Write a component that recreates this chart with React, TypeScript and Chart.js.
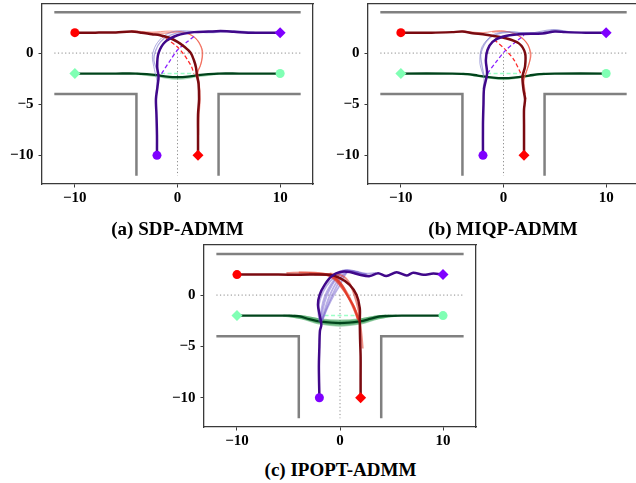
import React, { useEffect, useRef } from "react";
import { Chart, registerables } from "chart.js";
Chart.register(...registerables);

type P = [number, number];

// ---------- shared data ----------
const xTicks = [-10, 0, 10];
const yTicks = [-10, -5, 0];
const wallTop: P[] = [[-12, 4], [12, 4]];
const wallLeft: P[] = [[-12, -4], [-4, -4], [-4, -12]];
const wallRight: P[] = [[12, -4], [4, -4], [4, -12]];
const dotH: P[] = [[-12, 0], [12, 0]];
const dotV: P[] = [[0, 0], [0, -12]];
const redStart: P = [-10, 2];
const redEnd: P = [2, -10];
const purpleStart: P = [-2, -10];
const purpleEnd: P = [10, 2];
const greenStart: P = [10, -2];
const greenEnd: P = [-10, -2];

// ---------- (a) SDP-ADMM ----------
const aRed: P[] = [[-10, 2], [-8, 2], [-6, 2.02], [-4.5, 2.1], [-3.5, 2.0], [-2.5, 1.85], [-1.7, 1.75], [-0.8, 1.5], [0, 1.1], [0.7, 0.6], [1.3, 0], [1.6, -0.7], [1.8, -1.4], [1.9, -2.2], [2.05, -3], [2.1, -4.5], [2.0, -6], [2.0, -8], [2, -10]];
const aRedLight: P[] = [[-5, 2.1], [-3, 2.0], [-1.3, 1.95], [0.3, 2.07], [1.6, 1.6], [2.3, 0.6], [2.4, -0.4], [2.2, -1.3], [1.8, -2.1], [2.1, -3], [2.2, -4.5], [2.1, -6], [2.05, -8]];
const aRedLight2: P[] = [[-4.5, 2.2], [-2.5, 2.05], [-0.8, 2.15], [0.8, 2.0], [1.9, 1.3], [2.45, 0.2], [2.3, -1.0], [2.0, -1.9], [2.15, -3.2], [2.1, -5]];
const aPurple: P[] = [[-2, -10], [-2, -8], [-2.05, -6], [-2.1, -4.5], [-1.95, -3.3], [-1.85, -2.3], [-1.98, -1.3], [-1.85, 0], [-1.2, 1.1], [0, 1.75], [1.6, 2.05], [3, 2.1], [4.2, 2.15], [5.5, 2.08], [7.4, 1.98], [10, 2]];
const aPurpleLight: P[] = [[-1.8, -2.6], [-2.0, -1.7], [-2.3, -0.7], [-2.15, 0.2], [-1.66, 1.1], [-0.7, 1.75], [0.6, 2.07], [1.8, 2.05], [3.5, 2.0], [5, 2.1], [7, 2.0], [9, 2.0]];
const aPurpleLight2: P[] = [[-2.1, -4], [-2.0, -2.8], [-2.25, -1.6], [-2.45, -0.3], [-2.1, 0.8], [-1.3, 1.7], [-0.2, 2.15], [1.2, 2.15], [2.8, 2.0], [5, 2.2], [7.5, 2.05]];
const aRedRef: P[] = [[-1.7, 1.75], [-0.8, 1.2], [0, 0.6], [0.6, -0.1], [1.0, -0.7], [1.35, -1.3], [1.6, -2.0]];
const aPurpleRef: P[] = [[-1.55, -2.0], [-0.7, -0.7], [0, 0.3], [0.95, 1.1], [1.75, 1.75]];
const aGreen: P[] = [[10, -2], [6, -2], [4, -2.0], [3, -2.05], [2, -2.15], [1, -2.3], [0, -2.35], [-1, -2.3], [-2, -2.15], [-3, -2.05], [-4, -2], [-6, -2], [-10, -2]];
const aGreenLight: P[] = [[4, -2], [2, -2.25], [0, -2.5], [-2, -2.25], [-4, -2]];
const aGreenRef: P[] = [[-1.6, -2], [1.6, -2]];

// ---------- (b) MIQP-ADMM ----------
const bRed: P[] = [[-10, 2], [-7, 2.0], [-5, 2.05], [-4, 2.1], [-3, 1.95], [-1.7, 1.8], [0.2, 1.45], [1.5, 0.95], [2.1, 0], [2.1, -1.3], [1.85, -2.3], [1.95, -3.6], [2.1, -4.5], [2.0, -5.5], [2.0, -7], [2, -10]];
const bRedLight: P[] = [[-1.1, 2.07], [0.55, 2.07], [2.0, 1.3], [2.66, 0], [2.5, -1.0], [2.17, -2.0], [1.9, -3], [2.2, -4.5]];
const bRedLight2: P[] = [[-4, 2.15], [-2, 2.0], [-0.3, 2.2], [1.3, 1.8], [2.4, 0.8], [2.6, -0.5], [2.3, -1.6], [2.0, -2.6], [2.15, -4]];
const bPurple: P[] = [[-2, -10], [-2, -7], [-1.95, -5], [-1.9, -3.5], [-1.6, -2.0], [-1.72, -0.7], [-1.56, 0.3], [-1.07, 1.1], [-0.1, 1.6], [1.5, 1.85], [3.8, 1.92], [5, 2.1], [6, 2.05], [8, 2.0], [10, 2]];
const bPurpleLight: P[] = [[-1.9, -2.2], [-2.1, -1.2], [-2.2, 0], [-1.4, 1.43], [-0.1, 1.98], [1.5, 2.0], [3.5, 2.0], [5, 2.25], [6.5, 2.05], [9, 2.0]];
const bPurpleLight2: P[] = [[-2.0, -3.5], [-1.9, -2.5], [-2.3, -1.0], [-2.1, 0.6], [-1.0, 1.8], [0.5, 2.1], [2.5, 1.95], [4.8, 2.3], [7, 2.0]];
const bRedRef: P[] = [[-0.9, 1.3], [0.06, 0.46], [1.03, -0.68], [1.68, -1.98]];
const bPurpleRef: P[] = [[-1.56, -1.98], [-0.58, -0.68], [0.22, 0.29], [1.2, 1.1], [2.0, 1.75]];
const bGreen: P[] = [[10, -2], [5, -2], [3.5, -2.05], [2.5, -2.2], [1, -2.4], [0, -2.45], [-1, -2.4], [-2.5, -2.2], [-3.5, -2.05], [-5, -2], [-10, -2]];
const bGreenLight: P[] = [[4, -2], [2, -2.3], [0, -2.55], [-2, -2.3], [-4, -2]];
const bGreenRef: P[] = [[-1.6, -2], [1.6, -2]];

// ---------- (c) IPOPT-ADMM ----------
const cRed: P[] = [[-10, 2], [-6, 2], [-3.9, 1.98], [-1.0, 1.98], [0, 1.65], [0.94, 1.0], [1.6, 0.03], [1.92, -1.27], [1.92, -2.57], [1.95, -4.3], [2.0, -6], [2.0, -8], [2, -10]];
const cRedFan1: P[] = [[-3, 2.1], [-1.5, 2.0], [-0.5, 1.6], [0.5, 0.3], [1.2, -0.9], [1.7, -2.3]];
const cRedFan2: P[] = [[-4, 2.2], [-2, 2.1], [-0.7, 1.9], [0.2, 0.9], [1.0, -0.6], [1.8, -2.4]];
const cRedFan3: P[] = [[-2.5, 2.0], [-1, 1.9], [0, 1.2], [0.8, 0.0], [1.5, -1.5], [1.9, -2.5], [2.1, -4], [2.2, -5.2]];
const cRedFan4: P[] = [[-1, 2.1], [0.2, 1.9], [0.9, 1.2], [1.4, 0], [1.8, -1.5], [1.9, -2.6]];
const cRedFan5: P[] = [[-5.2, 2.15], [-3, 2.2], [-1.3, 2.0], [-0.3, 1.3], [0.4, 0.4], [1.0, -0.5], [1.5, -1.5], [1.85, -2.5]];
const cRedFan6: P[] = [[-2, 2.05], [-0.9, 2.0], [-0.2, 1.5], [0.3, 0.8], [0.8, -0.2], [1.4, -1.2], [1.75, -2.4]];
const cPurple: P[] = [[-2, -10], [-2.05, -7], [-2.0, -5], [-1.95, -3.5], [-1.81, -2.89], [-1.98, -1.92], [-2.14, -0.94], [-1.98, 0.03], [-1.49, 1.0], [-0.84, 1.81], [0, 2.25], [0.94, 2.25], [1.92, 1.98], [2.9, 1.85], [3.7, 2.12], [4.5, 1.85], [5.5, 2.22], [6.47, 1.9], [7.1, 2.18], [8.1, 1.98], [9.06, 2.1], [10, 2]];
const cPurpleFan1: P[] = [[-1.8, -2.6], [-1.5, -1.5], [-1.1, -0.3], [-0.6, 0.8], [0, 1.7], [0.6, 2.3], [1.5, 2.1]];
const cPurpleFan2: P[] = [[-1.9, -2.5], [-1.8, -1.4], [-1.5, -0.2], [-0.9, 1.0], [-0.2, 1.9], [0.5, 2.4], [1.8, 2.2]];
const cPurpleFan3: P[] = [[-1.7, -2.4], [-1.2, -1.2], [-0.6, 0], [0, 1.0], [0.4, 1.8], [0.8, 2.3], [2.0, 2.0]];
const cPurpleFan4: P[] = [[-2.0, -2.6], [-2.1, -1.5], [-1.9, -0.3], [-1.3, 0.9], [-0.5, 1.8], [0.3, 2.4], [1.2, 2.3], [2.5, 2.0]];
const cPurpleFan5: P[] = [[-1.85, -2.5], [-1.65, -1.3], [-1.3, -0.1], [-0.75, 1.0], [-0.1, 1.95], [0.7, 2.45], [2.2, 2.1], [3.5, 2.15]];
const cPurpleFan6: P[] = [[-1.75, -2.5], [-1.35, -1.4], [-0.85, -0.2], [-0.3, 0.9], [0.2, 1.8], [1.0, 2.35], [2.6, 2.05]];
const cGreen: P[] = [[10, -2], [6, -2], [5, -2.02], [3.86, -2.08], [3, -2.3], [1.92, -2.57], [0, -2.73], [-1.98, -2.57], [-3, -2.35], [-3.9, -2.08], [-5, -2.0], [-6, -2], [-10, -2]];
const cGreenFan1: P[] = [[5, -2], [3.5, -2.3], [2, -2.75], [0, -2.95], [-2, -2.75], [-3.5, -2.3], [-5, -2]];
const cGreenFan2: P[] = [[5.5, -2], [3.5, -2.25], [2, -2.65], [0, -2.85], [-2, -2.65], [-3.5, -2.25], [-5.5, -2]];
const cGreenFan3: P[] = [[4.5, -2], [3, -2.2], [1.5, -2.5], [0, -2.6], [-1.5, -2.5], [-3, -2.2], [-4.5, -2]];
const cGreenFan4: P[] = [[4.8, -2], [3.2, -2.15], [1.8, -2.4], [0, -2.5], [-1.8, -2.4], [-3.2, -2.15], [-4.8, -2]];
const cGreenRef: P[] = [[-1.5, -2], [2, -2]];

// ---------- styling ----------
const C = {
  wall: "#808080",
  dot: "#8a8a8a",
  red: "#7a0a10",
  purple: "#40088a",
  green: "#00441b",
  redLight: "rgba(238,80,60,0.6)",
  purpleLight: "rgba(120,115,200,0.6)",
  greenLight: "rgba(60,170,90,0.45)",
  redFan: "rgba(225,55,35,0.55)",
  purpleFan: "rgba(115,95,205,0.5)",
  greenFan: "rgba(40,150,70,0.45)",
  redRef: "#ff2a2a",
  purpleRef: "#8a20ff",
  greenRef: "#9dffc8",
  redMk: "#ff0000",
  purpleMk: "#7f00ff",
  greenMk: "#80ffb4",
};

type Layer = { pts: P[]; color: string; width: number; dash?: number[]; tension?: number };

const baseLayers = (): Layer[] => [
  { pts: wallTop, color: C.wall, width: 2.5 },
  { pts: wallLeft, color: C.wall, width: 2.5 },
  { pts: wallRight, color: C.wall, width: 2.5 },
  { pts: dotH, color: C.dot, width: 1, dash: [1.2, 2.4] },
  { pts: dotV, color: C.dot, width: 1, dash: [1.2, 2.4] },
];

const markers = () => [
  { pt: redStart, color: C.redMk, style: "circle", r: 4.5 },
  { pt: redEnd, color: C.redMk, style: "rectRot", r: 5.5 },
  { pt: purpleStart, color: C.purpleMk, style: "circle", r: 4.5 },
  { pt: purpleEnd, color: C.purpleMk, style: "rectRot", r: 5.5 },
  { pt: greenStart, color: C.greenMk, style: "circle", r: 4.5 },
  { pt: greenEnd, color: C.greenMk, style: "rectRot", r: 5.5 },
];

const layersA = (): Layer[] => [
  ...baseLayers(),
  { pts: aGreenLight, color: C.greenLight, width: 2.2, tension: 0.3 },
  { pts: aGreenRef, color: C.greenRef, width: 1.5, dash: [4, 2.5] },
  { pts: aGreen, color: C.green, width: 2.3, tension: 0.3 },
  { pts: aRedLight, color: C.redLight, width: 1.3, tension: 0.3 },
  { pts: aRedLight2, color: C.redLight, width: 1.0, tension: 0.3 },
  { pts: aPurpleLight, color: C.purpleLight, width: 1.3, tension: 0.3 },
  { pts: aPurpleLight2, color: C.purpleLight, width: 1.0, tension: 0.3 },
  { pts: aRedRef, color: C.redRef, width: 1.3, dash: [4, 2.5], tension: 0.3 },
  { pts: aPurpleRef, color: C.purpleRef, width: 1.3, dash: [4, 2.5], tension: 0.3 },
  { pts: aRed, color: C.red, width: 2.5, tension: 0.3 },
  { pts: aPurple, color: C.purple, width: 2.5, tension: 0.3 },
];

const layersB = (): Layer[] => [
  ...baseLayers(),
  { pts: bGreenLight, color: C.greenLight, width: 2.2, tension: 0.3 },
  { pts: bGreenRef, color: C.greenRef, width: 1.5, dash: [4, 2.5] },
  { pts: bGreen, color: C.green, width: 2.3, tension: 0.3 },
  { pts: bRedLight, color: C.redLight, width: 1.3, tension: 0.3 },
  { pts: bRedLight2, color: C.redLight, width: 1.0, tension: 0.3 },
  { pts: bPurpleLight, color: C.purpleLight, width: 1.3, tension: 0.3 },
  { pts: bPurpleLight2, color: C.purpleLight, width: 1.0, tension: 0.3 },
  { pts: bRedRef, color: C.redRef, width: 1.3, dash: [4, 2.5], tension: 0.3 },
  { pts: bPurpleRef, color: C.purpleRef, width: 1.3, dash: [4, 2.5], tension: 0.3 },
  { pts: bRed, color: C.red, width: 2.5, tension: 0.3 },
  { pts: bPurple, color: C.purple, width: 2.5, tension: 0.3 },
];

const layersC = (): Layer[] => [
  ...baseLayers(),
  { pts: cGreenFan1, color: C.greenFan, width: 2.5, tension: 0.3 },
  { pts: cGreenFan2, color: C.greenFan, width: 2.5, tension: 0.3 },
  { pts: cGreenFan3, color: C.greenFan, width: 2.5, tension: 0.3 },
  { pts: cGreenFan4, color: C.greenFan, width: 2.5, tension: 0.3 },
  { pts: cGreenRef, color: C.greenRef, width: 1.5, dash: [4, 2.5] },
  { pts: cGreen, color: C.green, width: 2.3, tension: 0.3 },
  { pts: cPurpleFan1, color: C.purpleFan, width: 1.8, tension: 0.3 },
  { pts: cPurpleFan2, color: C.purpleFan, width: 1.8, tension: 0.3 },
  { pts: cPurpleFan3, color: C.purpleFan, width: 1.8, tension: 0.3 },
  { pts: cPurpleFan4, color: C.purpleFan, width: 1.8, tension: 0.3 },
  { pts: cPurpleFan5, color: C.purpleFan, width: 1.8, tension: 0.3 },
  { pts: cPurpleFan6, color: C.purpleFan, width: 1.8, tension: 0.3 },
  { pts: cRedFan1, color: C.redFan, width: 2, tension: 0.3 },
  { pts: cRedFan2, color: C.redFan, width: 2, tension: 0.3 },
  { pts: cRedFan3, color: C.redFan, width: 2, tension: 0.3 },
  { pts: cRedFan4, color: C.redFan, width: 2, tension: 0.3 },
  { pts: cRedFan5, color: C.redFan, width: 2, tension: 0.3 },
  { pts: cRedFan6, color: C.redFan, width: 2, tension: 0.3 },
  { pts: cRed, color: C.red, width: 2.5, tension: 0.3 },
  { pts: cPurple, color: C.purple, width: 2.5, tension: 0.3 },
];

const FONT_FAMILY = "'Liberation Serif', 'Times New Roman', serif";
const fmt = (v: any) => (Number(v) < 0 ? "\u2212" + Math.abs(Number(v)) : String(v));

type PanelProps = {
  left: number; top: number; w: number; h: number;
  xr: [number, number]; yr: [number, number];
  layers: Layer[];
};

function Panel({ left, top, w, h, xr, yr, layers }: PanelProps) {
  const ref = useRef<HTMLCanvasElement>(null);
  const YW = 40, PT = 16, PR = 12, XH = 26;
  const cw = YW + w + PR, ch = PT + h + XH;
  useEffect(() => {
    const mk = markers();
    const all: any[] = [];
    layers.forEach((l) =>
      all.push({
        data: l.pts.map(([x, y]) => ({ x, y })),
        showLine: true,
        borderColor: l.color,
        borderWidth: l.width,
        borderDash: l.dash || [],
        tension: l.tension || 0,
        pointRadius: 0,
        fill: false,
        borderCapStyle: "butt",
        borderJoinStyle: "miter",
      })
    );
    mk.forEach((m) =>
      all.push({
        data: [{ x: m.pt[0], y: m.pt[1] }],
        showLine: false,
        pointStyle: m.style,
        pointRadius: m.r,
        backgroundColor: m.color,
        borderColor: m.color,
        borderWidth: 0,
      })
    );
    const N = all.length;
    all.forEach((d, i) => (d.order = N - i));
    const tickFont = { family: FONT_FAMILY, size: 15, weight: "bold" as const };
    const frame = { display: true, color: "#3a3a3a", width: 1.3 };
    const chart = new Chart(ref.current!, {
      type: "scatter",
      data: { datasets: all },
      options: {
        animation: false,
        responsive: false,
        maintainAspectRatio: false,
        events: [],
        layout: { padding: { top: PT, right: PR, left: 0, bottom: 0 } },
        plugins: { legend: { display: false }, tooltip: { enabled: false }, title: { display: false } },
        scales: {
          x: {
            type: "linear", position: "bottom", min: xr[0], max: xr[1],
            afterBuildTicks: (s: any) => { s.ticks = xTicks.map((v) => ({ value: v })); },
            afterFit: (s: any) => { s.height = XH; },
            grid: { display: true, drawOnChartArea: false, drawTicks: true, tickLength: 3.5, tickColor: "#3a3a3a", tickWidth: 1 },
            border: frame,
            ticks: { font: tickFont, color: "#000", padding: 2, maxRotation: 0, autoSkip: false, callback: fmt },
          },
          y: {
            type: "linear", position: "left", min: yr[0], max: yr[1],
            afterBuildTicks: (s: any) => { s.ticks = yTicks.map((v) => ({ value: v })); },
            afterFit: (s: any) => { s.width = YW; },
            grid: { display: true, drawOnChartArea: false, drawTicks: true, tickLength: 3.5, tickColor: "#3a3a3a", tickWidth: 1 },
            border: frame,
            ticks: { font: tickFont, color: "#000", padding: 5, autoSkip: false, callback: fmt },
          },
          x2: {
            type: "linear", position: "top", min: xr[0], max: xr[1],
            afterFit: (s: any) => { s.height = 0; },
            grid: { display: false },
            border: frame,
            ticks: { display: false },
          },
          y2: {
            type: "linear", position: "right", min: yr[0], max: yr[1],
            afterFit: (s: any) => { s.width = 0; },
            grid: { display: false },
            border: frame,
            ticks: { display: false },
          },
        },
      } as any,
    });
    return () => chart.destroy();
  }, []);
  return (
    <canvas
      ref={ref}
      width={cw}
      height={ch}
      style={{ position: "absolute", left: left - YW, top: top - PT, width: cw, height: ch }}
    />
  );
}

function Title({ cx, top, text }: { cx: number; top: number; text: string }) {
  return (
    <div
      style={{
        position: "absolute", left: cx - 150, top, width: 300, textAlign: "center",
        fontFamily: FONT_FAMILY, fontWeight: "bold", fontSize: 19, lineHeight: "19px", color: "#000",
        whiteSpace: "nowrap",
      }}
    >
      {text}
    </div>
  );
}

export default function App() {
  return (
    <div style={{ position: "fixed", left: 0, top: 0, width: 636, height: 483, overflow: "hidden", background: "#fff" }}>
      <Panel left={42} top={4} w={271} h={180} xr={[-13.2, 13.2]} yr={[-12.8, 4.8]} layers={layersA()} />
      <Panel left={368} top={4} w={271} h={180} xr={[-13.2, 13.2]} yr={[-12.8, 4.8]} layers={layersB()} />
      <Panel left={204} top={245} w={272} h={182} xr={[-13.2, 13.2]} yr={[-12.85, 4.88]} layers={layersC()} />
      <Title cx={177.5} top={219} text="(a) SDP-ADMM" />
      <Title cx={503} top={219} text="(b) MIQP-ADMM" />
      <Title cx={340.5} top={460} text="(c) IPOPT-ADMM" />
    </div>
  );
}
